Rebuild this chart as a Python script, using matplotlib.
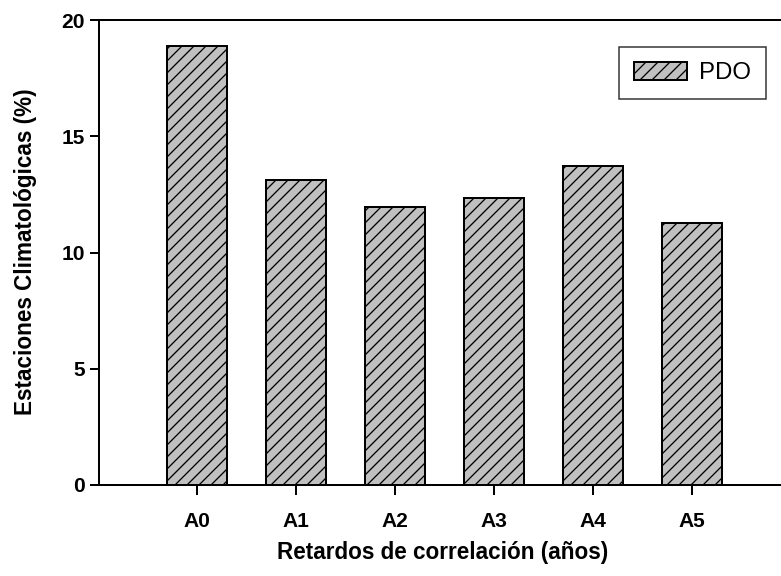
import matplotlib
matplotlib.use('Agg')
import matplotlib.pyplot as plt

# data
lags = ['A0', 'A1', 'A2', 'A3', 'A4', 'A5']
pct = [18.9, 13.1, 11.95, 12.35, 13.7, 11.25]
yticks = [0, 5, 10, 15, 20]

plt.rcParams['font.family'] = ['Liberation Sans', 'DejaVu Sans']
plt.rcParams['hatch.linewidth'] = 1.3
plt.rcParams['hatch.color'] = 'black'

W, H, DPI = 781, 576, 72
fig = plt.figure(figsize=(W / DPI, H / DPI), dpi=DPI)
ax = fig.add_axes([99 / W, (H - 485) / H, (W - 99) / W, 465 / H])

ax.bar(range(len(lags)), pct, width=0.6, color='#c0c0c0', edgecolor='black',
       linewidth=2, hatch='//', label='PDO', zorder=2)

ax.set_xlim(-0.99, 5.9)
ax.set_ylim(0, 20)
ax.set_xticks(range(len(lags)))
ax.set_xticklabels(lags, fontweight='bold', fontsize=21)
ax.set_yticks(yticks)
ax.set_yticklabels([str(v) for v in yticks], fontweight='bold', fontsize=21)
ax.tick_params(axis='x', length=10, width=2, pad=17, direction='out')
ax.tick_params(axis='y', length=9, width=2, pad=5, direction='out')

ax.spines['right'].set_visible(False)
for s in ['left', 'bottom', 'top']:
    ax.spines[s].set_linewidth(2)

fig.text(443 / W, (H - 559) / H, 'Retardos de correlación (años)',
         ha='center', va='baseline', fontsize=22.5, fontweight='bold')
fig.text(14 / W, (H - 252) / H, 'Estaciones Climatológicas (%)',
         ha='left', va='center', rotation=90, fontsize=22.5, fontweight='bold')

leg = ax.legend(loc='upper right', bbox_to_anchor=((766 - 99) / (W - 99), (485 - 47) / 465),
                fontsize=24, frameon=True, fancybox=False, edgecolor='black',
                handlelength=2.2, handleheight=0.8, borderpad=0.62, handletextpad=0.5,
                borderaxespad=0)
leg.get_frame().set_linewidth(1.5)

fig.savefig('out.png', dpi=DPI)
